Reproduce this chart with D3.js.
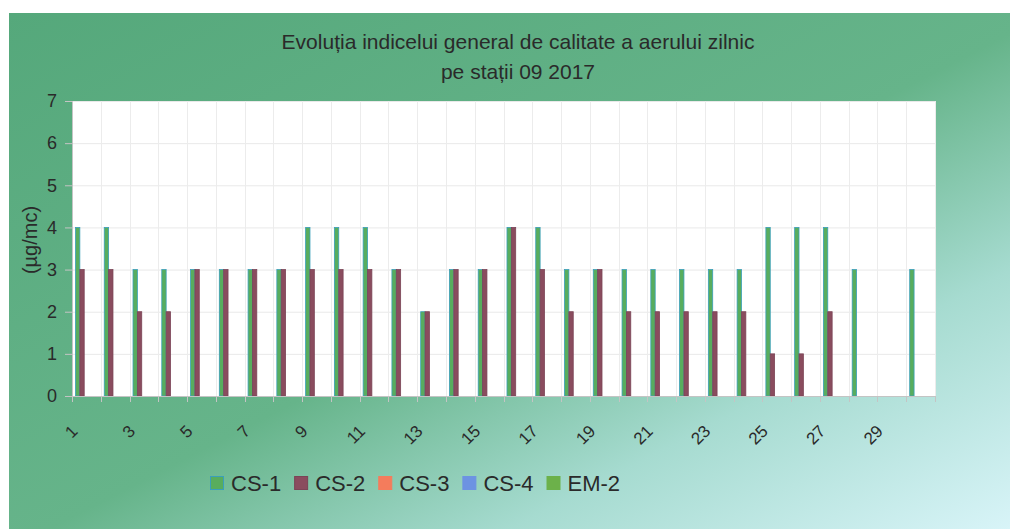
<!DOCTYPE html>
<html>
<head>
<meta charset="utf-8">
<script src="https://cdn.jsdelivr.net/npm/d3@7/dist/d3.min.js"></script>
<style>
  html, body { margin: 0; padding: 0; background: #ffffff; }
  svg { display: block; font-family: "Liberation Sans", Arial, sans-serif; }
</style>
</head>
<body>
<svg id="chart" width="1010" height="529"></svg>
<script>
// chart values
var days = ["1","2","3","4","5","6","7","8","9","10","11","12","13","14","15",
            "16","17","18","19","20","21","22","23","24","25","26","27","28","29","30"];
var cs1 = [4,4,3,3,3,3,3,3,4,4,4,3,2,3,3,4,4,3,3,3,3,3,3,3,4,4,4,3,null,3];
var cs2 = [3,3,2,2,3,3,3,3,3,3,3,3,2,3,3,4,3,2,3,2,2,2,2,2,1,1,2,null,null,null];
var cs3 = [];
var cs4 = [];
var em2 = [];
var seriesNames = ["CS-1","CS-2","CS-3","CS-4","EM-2"];
var yTicks = [0,1,2,3,4,5,6,7];
var xLabels = ["1","3","5","7","9","11","13","15","17","19","21","23","25","27","29"];
var titleLines = ["Evoluția indicelui general de calitate a aerului zilnic", "pe stații 09 2017"];
var yTitle = "(µg/mc)";

var seriesData = [cs1, cs2, cs3, cs4, em2];
var fills = ["#58ad5e", "#8a4c5e", "#f47c5c", "#6d93e2", "#6cb14a"],
    strokes = ["#3a9fba", "#7b4456", "#f47c5c", "#6d93e2", "#6cb14a"];

var svg = d3.select("#chart"),
    margin = {top: 101, right: 75, bottom: 133, left: 72},
    width = 1010 - margin.left - margin.right,
    height = 529 - margin.top - margin.bottom;

// background panel
var defs = svg.append("defs");
var grad = defs.append("linearGradient")
    .attr("id", "bg")
    .attr("x1", 0).attr("y1", 0).attr("x2", 1).attr("y2", 1);
grad.append("stop").attr("offset", "0%").attr("stop-color", "#55a87b");
grad.append("stop").attr("offset", "52%").attr("stop-color", "#66b48a");
grad.append("stop").attr("offset", "75%").attr("stop-color", "#a6dbd0");
grad.append("stop").attr("offset", "100%").attr("stop-color", "#d8f4f8");

svg.append("rect")
    .attr("x", 9).attr("y", 13)
    .attr("width", 1001).attr("height", 516)
    .attr("fill", "url(#bg)");

var x = d3.scaleBand()
    .domain(days)
    .range([0, width]);

var xSub = d3.scaleBand()
    .domain(seriesNames)
    .range([0, x.bandwidth()])
    .paddingOuter(0.8);

var y = d3.scaleLinear()
    .domain([0, 7])
    .range([height, 0]);

var g = svg.append("g")
    .attr("transform", "translate(" + margin.left + "," + margin.top + ")");

g.append("rect")
    .attr("width", width)
    .attr("height", height)
    .attr("fill", "#ffffff");

// gridlines
g.append("g")
    .selectAll("line")
    .data(yTicks.slice(1))
    .enter().append("line")
    .attr("x1", 0).attr("x2", width)
    .attr("y1", function(d){ return y(d) + 0.5; })
    .attr("y2", function(d){ return y(d) + 0.5; })
    .attr("stroke", "#e9e9e9");

g.append("g")
    .selectAll("line")
    .data(days)
    .enter().append("line")
    .attr("x1", function(d){ return Math.round(x(d) + x.bandwidth()) + 0.5; })
    .attr("x2", function(d){ return Math.round(x(d) + x.bandwidth()) + 0.5; })
    .attr("y1", 0).attr("y2", height)
    .attr("stroke", "#ececec");

// bars
seriesData.forEach(function(vals, s) {
    var rows = days.map(function(d, i){ return {day: d, v: vals[i]}; })
        .filter(function(r){ return r.v != null; });
    g.append("g")
        .attr("class", "series")
        .selectAll("rect")
        .data(rows)
        .enter().append("rect")
        .attr("x", function(r){ return x(r.day) + xSub(seriesNames[s]); })
        .attr("y", function(r){ return y(r.v); })
        .attr("width", xSub.bandwidth())
        .attr("height", function(r){ return height - y(r.v); })
        .attr("fill", fills[s])
        .attr("stroke", strokes[s])
        .attr("stroke-width", 0.8);
});

// axes
var yAxis = d3.axisLeft(y).tickValues(yTicks).tickFormat(d3.format("d")).tickSize(7).tickPadding(8);
var yg = g.append("g").call(yAxis);
yg.select(".domain").attr("stroke", "#c4c4c4");
yg.selectAll(".tick line").attr("stroke", "#c4c4c4");
yg.selectAll(".tick text")
    .attr("fill", "#2a2a2a")
    .style("font-size", "18px")
    .style("font-family", "'Liberation Sans', Arial, sans-serif");

var xg = g.append("g").attr("transform", "translate(0," + height + ")");
xg.append("line")
    .attr("x1", 0).attr("x2", width)
    .attr("y1", 0.5).attr("y2", 0.5)
    .attr("stroke", "#c4c4c4");
xg.selectAll("line.tk")
    .data(days.concat(["end"]))
    .enter().append("line")
    .attr("class", "tk")
    .attr("x1", function(d, i){ return Math.round(i < days.length ? x(d) : width) + 0.5; })
    .attr("x2", function(d, i){ return Math.round(i < days.length ? x(d) : width) + 0.5; })
    .attr("y1", 0).attr("y2", 6)
    .attr("stroke", "#c4c4c4");

xg.selectAll("text")
    .data(xLabels)
    .enter().append("text")
    .attr("transform", function(d){
        var cx = x(d) + x.bandwidth() / 2 - 12;
        return "translate(" + cx + ",32) rotate(-45)";
    })
    .attr("text-anchor", "end")
    .attr("dy", "0.35em")
    .attr("fill", "#2a2a2a")
    .style("font-size", "17px")
    .text(function(d){ return d; });

// axis title
svg.append("text")
    .attr("transform", "translate(37,240) rotate(-90)")
    .attr("text-anchor", "middle")
    .attr("fill", "#2a2a2a")
    .style("font-size", "20px")
    .text(yTitle);

// title
svg.selectAll("text.title")
    .data(titleLines)
    .enter().append("text")
    .attr("class", "title")
    .attr("x", 518)
    .attr("y", function(d, i){ return 49 + i * 30; })
    .attr("text-anchor", "middle")
    .attr("fill", "#2a2a2a")
    .style("font-size", "21px")
    .text(function(d){ return d; });

// legend
var legend = svg.append("g").attr("transform", "translate(210,483)");
var lx = 0;
seriesNames.forEach(function(name, i) {
    var item = legend.append("g").attr("transform", "translate(" + lx + ",0)");
    item.append("rect")
        .attr("x", 0.5).attr("y", -6.5)
        .attr("width", 13).attr("height", 13)
        .attr("fill", fills[i])
        .attr("stroke", strokes[i]);
    var t = item.append("text")
        .attr("x", 21)
        .attr("dy", "0.36em")
        .attr("fill", "#2a2a2a")
        .style("font-size", "22px")
        .text(name);
    lx += 21 + t.node().getComputedTextLength() + 13;
});
</script>
</body>
</html>
